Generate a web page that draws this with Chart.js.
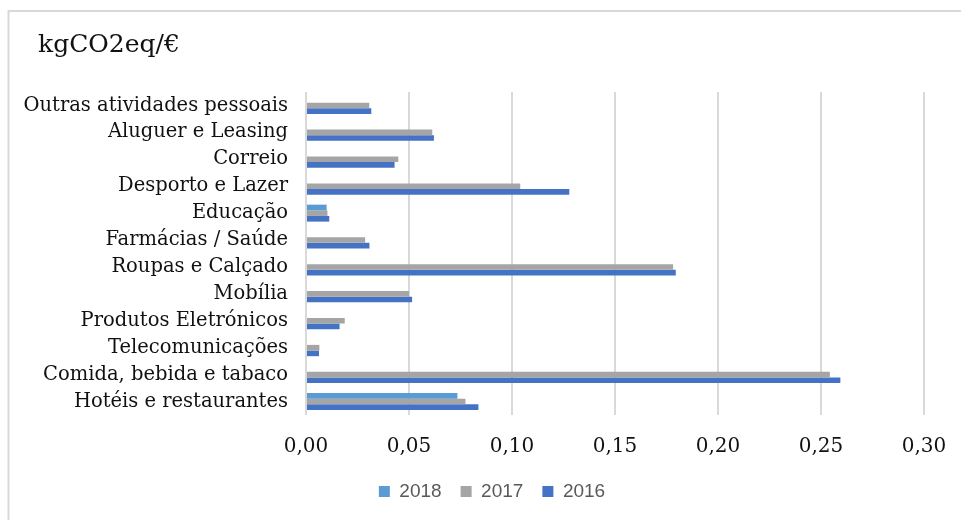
<!DOCTYPE html>
<html>
<head>
<meta charset="utf-8">
<script src="https://cdn.jsdelivr.net/npm/chart.js@4/dist/chart.umd.min.js"></script>
<style>
  html, body { margin: 0; padding: 0; background: #fff; }
  #wrap { width: 961px; height: 520px; }
</style>
</head>
<body>
<div id="wrap"><canvas id="c" width="961" height="520"></canvas></div>
<script>
// Emission intensity per sector (kgCO2eq per euro), listed top to bottom
const categories = [
  'Outras atividades pessoais',
  'Aluguer e Leasing',
  'Correio',
  'Desporto e Lazer',
  'Educação',
  'Farmácias / Saúde',
  'Roupas e Calçado',
  'Mobília',
  'Produtos Eletrónicos',
  'Telecomunicações',
  'Comida, bebida e tabaco',
  'Hotéis e restaurantes'
];
const seriesNames = ['2018', '2017', '2016'];
const values2018 = [null, null, null, null, 0.010, null, null, null, null, null, null, 0.0735];
const values2017 = [0.0307, 0.0613, 0.0448, 0.1040, 0.0104, 0.0287, 0.1782, 0.0500, 0.0188, 0.0065, 0.2543, 0.0774];
const values2016 = [0.0317, 0.0621, 0.0430, 0.1278, 0.0113, 0.0308, 0.1795, 0.0515, 0.0163, 0.0063, 0.2594, 0.0837];
const xTickLabels = ['0,00', '0,05', '0,10', '0,15', '0,20', '0,25', '0,30'];
const unitLabel = 'kgCO2eq/€';

const serif = '"DejaVu Serif", "Liberation Serif", serif';

// Outer frame and unit caption
const framePlugin = {
  id: 'frame',
  beforeDraw(chart) {
    const ctx = chart.ctx;
    ctx.save();
    ctx.fillStyle = '#ffffff';
    ctx.fillRect(0, 0, chart.width, chart.height);
    ctx.strokeStyle = '#d9d9d9';
    ctx.lineWidth = 2;
    ctx.strokeRect(8.5, 11, 2000, 2000);
    ctx.restore();
  },
  afterDraw(chart) {
    const ctx = chart.ctx;
    ctx.save();
    ctx.fillStyle = '#111111';
    ctx.font = '25px ' + serif;
    ctx.textAlign = 'left';
    ctx.textBaseline = 'alphabetic';
    ctx.fillText(unitLabel, 38, 52);
    ctx.restore();
  }
};

const colors = ['#5B9BD5', '#A5A5A5', '#4472C4'];
const seriesValues = [values2018, values2017, values2016];

new Chart(document.getElementById('c'), {
  type: 'bar',
  data: {
    labels: categories,
    datasets: seriesNames.map((name, i) => ({
      label: name,
      data: seriesValues[i],
      backgroundColor: colors[i],
      borderWidth: 0,
      categoryPercentage: 0.63,
      barPercentage: 1.0,
      xAxisID: 'x',
      yAxisID: 'y'
    }))
  },
  options: {
    indexAxis: 'y',
    responsive: false,
    animation: false,
    layout: { padding: { left: 23, right: 0, top: 92, bottom: 9 } },
    scales: {
      x: {
        min: 0,
        max: 0.30,
        ticks: {
          stepSize: 0.05,
          padding: 0,
          color: '#111111',
          font: { family: serif, size: 20 },
          callback: (v, i) => xTickLabels[i]
        },
        // invisible tick marks keep the labels clear of the plot
        grid: { color: '#d9d9d9', lineWidth: 2, drawTicks: true, tickLength: 20, tickColor: 'rgba(0,0,0,0)' },
        border: { display: false },
        afterFit: (s) => { s.height = 48; }
      },
      y: {
        ticks: {
          padding: 18,
          color: '#111111',
          font: { family: serif, size: 19.5 }
        },
        grid: { display: false, drawTicks: false },
        border: { display: false },
        afterFit: (s) => { s.width = 283; }
      },
      // empty margin on the right of the plot
      yRight: {
        type: 'linear',
        position: 'right',
        ticks: { display: false },
        grid: { display: false, drawTicks: false },
        border: { display: false },
        afterFit: (s) => { s.width = 37; }
      }
    },
    plugins: {
      legend: {
        position: 'bottom',
        labels: {
          boxWidth: 11,
          boxHeight: 11,
          padding: 19,
          color: '#595959',
          font: { family: '"Liberation Sans", Arial, sans-serif', size: 19 }
        }
      },
      tooltip: { enabled: false }
    }
  },
  plugins: [framePlugin]
});
</script>
</body>
</html>
